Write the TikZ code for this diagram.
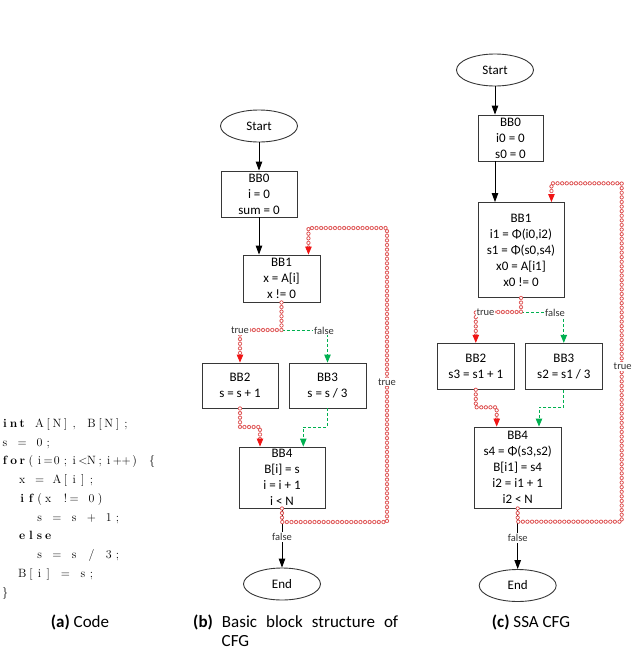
\documentclass[tikz,border=0pt]{standalone}
\usepackage{fontspec}
\newfontfamily\carl{Carlito}
\usetikzlibrary{shapes.geometric,arrows.meta}
\definecolor{chainred}{RGB}{222,82,82}
\definecolor{tipred}{RGB}{240,20,20}
\definecolor{ggreen}{RGB}{0,176,80}
\definecolor{boxline}{RGB}{55,55,55}
\makeatletter
\newcommand\cw[1]{\@tfor\@cch:=#1\do{\makebox[8.65pt][c]{\@cch}}}
\newcommand\cwb[1]{{\bfseries\cw{#1}}}
\makeatother
\tikzset{
  bb/.style={draw=boxline, line width=0.9pt, inner sep=0pt, align=center,
    font=\carl\fontsize{13}{16}\selectfont},
  term/.style={ellipse, draw=boxline, line width=0.9pt, inner sep=0pt,
    minimum width=77pt, minimum height=32pt, font=\carl\fontsize{13}{16}\selectfont},
  blk/.style={draw=black, line width=0.9pt, -{Triangle[length=9pt,width=6.5pt]}},
  chain/.style={draw=chainred, line width=4.2pt, line cap=round,
    dash pattern=on 0pt off 4.6pt,
    postaction={draw=white, line width=2.6pt, line cap=round, dash pattern=on 0pt off 4.6pt}},
  redtip/.style={draw=tipred, line width=0.9pt, -{Triangle[length=8pt,width=6.5pt]}},
  gdash/.style={draw=ggreen, line width=0.9pt, dash pattern=on 3pt off 2pt,
    -{Triangle[length=8pt,width=6.5pt]}},
  lbl/.style={fill=white, inner sep=1pt, font=\carl\fontsize{10.5}{12}\selectfont, text=black!80},
  codeline/.style={anchor=base west, inner sep=0pt, font=\fontsize{12}{14}\selectfont},
  capt/.style={anchor=base, inner sep=0pt, font=\carl\fontsize{17}{20}\selectfont}
}
\begin{document}
\begin{tikzpicture}[x=1pt,y=-1pt]
\useasboundingbox (0,0) rectangle (633,651);

% ---------------- (a) code ----------------
\node[codeline] (code1) at (0.5,427.2) {\cwb{int}\cw{~A[N],~B[N];}};
\node[codeline] (code2) at (0.5,446.0) {\cw{s~=~0;}};
\node[codeline] (code3) at (0.5,464.8) {\cwb{for}\cw{(i=0;i<N;i++)~\{}};
\node[codeline] (code4) at (0.5,483.5) {\cw{~~x~=~A[i];}};
\node[codeline] (code5) at (0.5,502.3) {\cw{~~}\cwb{if}\cw{(x~!=~0)}};
\node[codeline] (code6) at (0.5,521.1) {\cw{~~~~s~=~s~+~1;}};
\node[codeline] (code7) at (0.5,539.9) {\cw{~~}\cwb{else}};
\node[codeline] (code8) at (0.5,558.7) {\cw{~~~~s~=~s~/~3;}};
\node[codeline] (code9) at (0.5,577.4) {\cw{~~B[i]~=~s;}};
\node[codeline] (code10) at (0.5,596.2) {\cw{\}}};

\node[capt] (capa) at (80,627) {\textbf{(a)} Code};

% ---------------- (b) CFG ----------------
\node[term] (bStart) at (259,126) {Start};
\node[bb, minimum width=76pt, minimum height=46pt] (bBB0) at (259,194) {BB0\\i = 0\\sum = 0};
\node[bb, minimum width=77pt, minimum height=47pt] (bBB1) at (281.5,278.5) {BB1\\x = A[i]\\x != 0};
\node[bb, minimum width=76pt, minimum height=45pt] (bBB2) at (240,385.5) {BB2\\s = s + 1};
\node[bb, minimum width=77pt, minimum height=45pt] (bBB3) at (327.5,385.5) {BB3\\s = s / 3};
\node[bb, minimum width=86pt, minimum height=61pt] (bBB4) at (282,477.5) {BB4\\B[i] = s\\i = i + 1\\i {\textless} N};
\node[term] (bEnd) at (282,584) {End};

\coordinate (bJ) at (281.5,330);
\coordinate (bm2) at (260,427);
\coordinate (bm3) at (303.3,427);
\coordinate (bLB) at (387,522);
\coordinate (bLT) at (387,228);

\draw[blk] (bStart) -- (bBB0);
\draw[blk] (bBB0) -- (bBB0 |- bBB1.north);
\draw[blk] (bBB4.south) -- (bEnd.north);

\draw[gdash] (bJ) -| (bBB3.north);
\draw[chain, shorten >=7pt] (bBB1.south) -- (bJ) -| (bBB2.north);
\draw[redtip] ([yshift=8pt]bBB2.north) -- (bBB2.north);

\draw[gdash] (bBB3.south) |- (bm3) -- (bm3 |- bBB4.north);
\draw[chain, shorten >=7pt] (bBB2.south) |- (bm2) -- (bm2 |- bBB4.north);
\draw[redtip] ([yshift=8pt]bm2 |- bBB4.north) -- (bm2 |- bBB4.north);

\draw[chain, shorten >=7pt] (bBB4.south) |- (bLB) -- (bLT) -| ([xshift=-12pt]bBB1.north east);
\draw[redtip] ([xshift=-12pt,yshift=8pt]bBB1.north east) -- ([xshift=-12pt]bBB1.north east);

\node[lbl] (bT) at (240,330.5) {true};
\node[lbl] (bF) at (324,330.5) {false};
\node[lbl] (bT2) at (387,382) {true};
\node[lbl] (bF2) at (282,537) {false};

\node[capt, anchor=base west] (capb) at (193,627) {\makebox[205pt][s]{\textbf{(b)} Basic block structure of}};
\node[capt, anchor=base west] (capb2) at (221.5,646) {CFG};

% ---------------- (c) SSA CFG ----------------
\node[term] (cStart) at (495,70) {Start};
\node[bb, minimum width=65pt, minimum height=46pt] (cBB0) at (510.5,138) {BB0\\i0 = 0\\s0 = 0};
\node[bb, minimum width=86pt, minimum height=95pt] (cBB1) at (521,250) {BB1\\i1 = Φ(i0,i2)\\s1 = Φ(s0,s4)\\x0 = A[i1]\\x0 != 0};
\node[bb, minimum width=77pt, minimum height=46pt] (cBB2) at (475.8,366.3) {BB2\\s3 = s1 + 1};
\node[bb, minimum width=77pt, minimum height=46pt] (cBB3) at (563.8,366.3) {BB3\\s2 = s1 / 3};
\node[bb, minimum width=87pt, minimum height=81pt] (cBB4) at (517.7,467.5) {BB4\\s4 = Φ(s3,s2)\\B[i1] = s4\\i2 = i1 + 1\\i2 {\textless} N};
\node[term] (cEnd) at (517.7,585.5) {End};

\coordinate (cJ) at (521,312);
\coordinate (cm2) at (496.7,407.3);
\coordinate (cm3) at (539,407.3);
\coordinate (cLB) at (621.7,521.7);
\coordinate (cLT) at (621.7,183.3);

\draw[blk] (cStart.south) -- (cStart.south |- cBB0.north);
\draw[blk] (cStart.south |- cBB0.south) -- (cStart.south |- cBB1.north);
\draw[blk] (cBB4.south) -- (cEnd.north);

\draw[gdash] (cJ) -| (cBB3.north);
\draw[chain, shorten >=7pt] (cBB1.south) -- (cJ) -| (cBB2.north);
\draw[redtip] ([yshift=8pt]cBB2.north) -- (cBB2.north);

\draw[gdash] (cBB3.south) |- (cm3) -- (cm3 |- cBB4.north);
\draw[chain, shorten >=7pt] (cBB2.south) |- (cm2) -- (cm2 |- cBB4.north);
\draw[redtip] ([yshift=8pt]cm2 |- cBB4.north) -- (cm2 |- cBB4.north);

\draw[chain, shorten >=7pt] (cBB4.south) |- (cLB) -- (cLT) -| ([xshift=-13pt]cBB1.north east);
\draw[redtip] ([xshift=-13pt,yshift=8pt]cBB1.north east) -- ([xshift=-13pt]cBB1.north east);

\node[lbl] (cT) at (485.5,312.5) {true};
\node[lbl] (cF) at (555,312.5) {false};
\node[lbl] (cT2) at (622.7,366.7) {true};
\node[lbl] (cF2) at (517.7,538) {false};

\node[capt] (capc) at (531,627) {\textbf{(c)} SSA CFG};
\end{tikzpicture}
\end{document}
